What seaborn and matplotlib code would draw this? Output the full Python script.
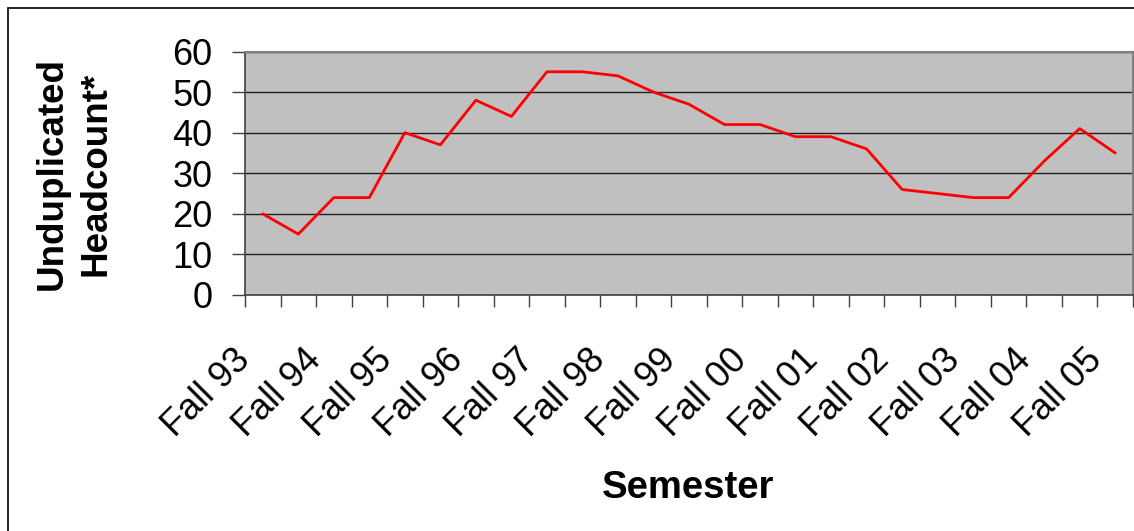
import matplotlib
matplotlib.use("Agg")
import matplotlib.pyplot as plt
from matplotlib.patches import Rectangle
from matplotlib.transforms import ScaledTranslation
import seaborn as sns
import pandas as pd

# Data (one point per semester)
semesters = ["Fall 93", "Spring 94", "Fall 94", "Spring 95", "Fall 95", "Spring 96",
             "Fall 96", "Spring 97", "Fall 97", "Spring 98", "Fall 98", "Spring 99",
             "Fall 99", "Spring 00", "Fall 00", "Spring 01", "Fall 01", "Spring 02",
             "Fall 02", "Spring 03", "Fall 03", "Spring 04", "Fall 04", "Spring 05",
             "Fall 05"]
headcount = [20, 15, 24, 24, 40, 37, 48, 44, 55, 55, 54, 50,
             47, 42, 42, 39, 39, 36, 26, 25, 24, 24, 33, 41, 35]
yticks = [0, 10, 20, 30, 40, 50, 60]

df = pd.DataFrame({"Semester": semesters, "Headcount": headcount})

sns.set_style("white")
plt.rcParams["font.family"] = ["Liberation Sans", "DejaVu Sans"]
plt.rcParams["text.color"] = "black"
plt.rcParams["xtick.color"] = "black"
plt.rcParams["ytick.color"] = "black"

fig = plt.figure(figsize=(11.34, 5.31), dpi=100)
ax = fig.add_axes([245 / 1134, 1 - 295 / 531, (1133 - 245) / 1134, (295 - 51.5) / 531])
ax.set_facecolor("#c0c0c0")

sns.lineplot(data=df, x="Semester", y="Headcount", sort=False, color="#ff0000", lw=2.0, ax=ax)

# axes / grid
ax.set_xlim(-0.5, len(semesters) - 0.5)
ax.set_ylim(0, 60)
ax.set_yticks(yticks)
ax.yaxis.grid(True, color="#202020", lw=1.0)
ax.set_axisbelow(True)
for s in ["top", "right"]:
    ax.spines[s].set_color("#808080")
    ax.spines[s].set_linewidth(1.5)
for s in ["left", "bottom"]:
    ax.spines[s].set_color("#404040")
    ax.spines[s].set_linewidth(1.2)

ax.tick_params(axis="y", direction="out", length=9.5, width=1, color="#404040",
               labelsize=26, pad=14, left=True)

# x labels only on the Fall semesters, tick marks on category borders
pos = list(range(0, len(semesters), 2))
ax.set_xticks(pos)
ax.set_xticklabels([semesters[i] for i in pos], rotation=45, ha="right", va="top",
                   rotation_mode="anchor", fontsize=26)
ax.set_xticks([i - 0.5 for i in range(len(semesters) + 1)], minor=True)
ax.tick_params(axis="x", which="major", length=0, pad=0)
ax.tick_params(axis="x", which="minor", direction="out", length=8.5, width=1,
               color="#404040", bottom=True)
off = ScaledTranslation(-22 / 72, -34 / 72, fig.dpi_scale_trans)
for lab in ax.get_xticklabels():
    lab.set_transform(lab.get_transform() + off)

ax.set_xlabel("")
ax.set_ylabel("")
fig.text(688 / 1134, 1 - 488 / 531, "Semester", fontsize=27.5, fontweight="bold",
         ha="center", va="center")
fig.text(74 / 1134, 1 - 174 / 531, "Unduplicated\nHeadcount*", fontsize=26.5,
         fontweight="bold", rotation=90, ha="center", va="center", linespacing=1.3)

# outer chart border
fig.patches.append(Rectangle((8 / 1134, -0.5), 2, 1.5 - 8 / 531, transform=fig.transFigure,
                             fill=False, edgecolor="black", lw=1.2))

fig.savefig("out.png", dpi=100)
